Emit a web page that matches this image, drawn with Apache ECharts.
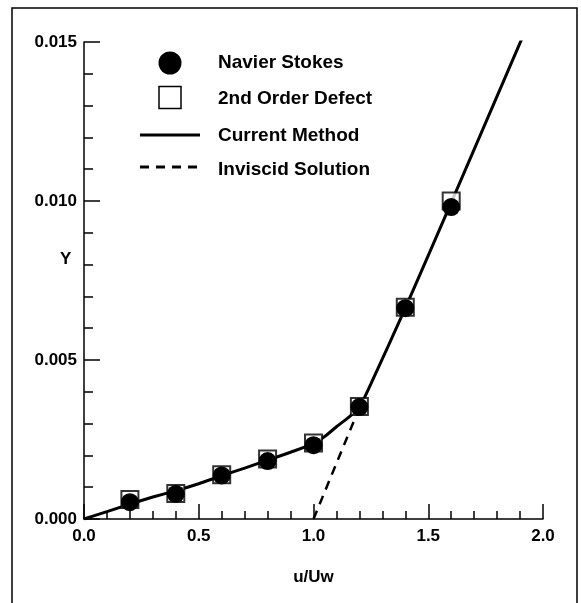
<!DOCTYPE html>
<html>
<head>
<meta charset="utf-8">
<script src="https://cdn.jsdelivr.net/npm/echarts@6/dist/echarts.min.js"></script>
<style>
html,body{margin:0;padding:0;background:#fff;}
#chart{width:581px;height:603px;}
</style>
</head>
<body>
<div id="chart"></div>
<script>
// ---- data ----
var pointX = [0.2, 0.4, 0.6, 0.8, 1.0, 1.2, 1.4, 1.6];
var navierStokesY = [0.00053, 0.00079, 0.00137, 0.00182, 0.00232, 0.00352, 0.00663, 0.00981];
var defectY = [0.00061, 0.00080, 0.00139, 0.00189, 0.00239, 0.00354, 0.00666, 0.01000];
var currentX = [0, 0.1, 0.2, 0.3, 0.4, 0.5, 0.6, 0.7, 0.8, 0.9, 1.0, 1.05, 1.1, 1.15, 1.2, 1.25, 1.4, 1.6, 1.8, 1.913];
var currentY = [0, 0.00023, 0.00047, 0.00069, 0.00089, 0.00111, 0.00136, 0.00160, 0.00185, 0.00210, 0.00237, 0.00260, 0.00290, 0.00318, 0.00352, 0.00425, 0.00663, 0.00995, 0.01330, 0.01519];
var inviscidX = [1.0, 1.2];
var inviscidY = [0, 0.0035];
var xTicks = ['0.0', '0.5', '1.0', '1.5', '2.0'];
var yTicks = ['0.000', '0.005', '0.010', '0.015'];
var legendNames = ['Navier Stokes', '2nd Order Defect', 'Current Method', 'Inviscid Solution'];

function zip(a, b) { return a.map(function (v, i) { return [v, b[i]]; }); }

var FONT = '"Liberation Sans", Arial, sans-serif';
var chart = echarts.init(document.getElementById('chart'), null, {renderer: 'canvas'});

var option = {
  backgroundColor: '#ffffff',
  animation: false,
  grid: {left: 84, right: 38, top: 42, bottom: 84, containLabel: false},
  xAxis: {
    type: 'value', min: 0, max: 2, interval: 0.5,
    name: 'u/Uw', nameLocation: 'middle', nameGap: 50,
    nameTextStyle: {fontFamily: FONT, fontWeight: 'bold', fontSize: 17, color: '#000'},
    axisLine: {show: true, lineStyle: {color: '#000', width: 1.5}},
    axisTick: {show: true, inside: true, length: 15, lineStyle: {color: '#000', width: 1.5}},
    minorTick: {show: true, splitNumber: 5, length: 8, lineStyle: {color: '#000', width: 1.5}},
    splitLine: {show: false},
    axisLabel: {
      margin: 9, fontFamily: FONT, fontWeight: 'bold', fontSize: 17, color: '#000',
      formatter: function (v) { return xTicks[Math.round(v / 0.5)]; }
    }
  },
  yAxis: {
    type: 'value', min: 0, max: 0.015, interval: 0.005,
    axisLine: {show: true, lineStyle: {color: '#000', width: 1.5}},
    axisTick: {show: true, inside: true, length: 16, lineStyle: {color: '#000', width: 1.5}},
    minorTick: {show: true, splitNumber: 5, length: 9, lineStyle: {color: '#000', width: 1.5}},
    splitLine: {show: false},
    axisLabel: {
      margin: 7, fontFamily: FONT, fontWeight: 'bold', fontSize: 17, color: '#000',
      formatter: function (v) { return yTicks[Math.round(v / 0.005)]; }
    }
  },
  series: [
    {
      name: legendNames[2], type: 'line', data: zip(currentX, currentY),
      showSymbol: false, symbol: 'none', smooth: 0.2,
      lineStyle: {color: '#000', width: 3}, z: 2
    },
    {
      name: legendNames[3], type: 'line', data: zip(inviscidX, inviscidY),
      showSymbol: false, symbol: 'none',
      lineStyle: {color: '#000', width: 2.5, type: [9, 7]}, z: 2
    },
    {
      name: legendNames[1], type: 'scatter', data: zip(pointX, defectY),
      symbol: 'rect', symbolSize: 17,
      itemStyle: {color: '#fff', borderColor: '#000', borderWidth: 2}, z: 3
    },
    {
      name: legendNames[0], type: 'scatter', data: zip(pointX, navierStokesY),
      symbol: 'circle', symbolSize: 18,
      itemStyle: {color: '#000', opacity: 1}, z: 4
    }
  ],
  graphic: [
    // outer frame
    {type: 'rect', shape: {x: 12, y: 8, width: 565, height: 610},
     style: {fill: null, stroke: '#000', lineWidth: 1.5}, silent: true},
    // Y axis title
    {type: 'text', left: 60, top: 251,
     style: {text: 'Y', fontFamily: FONT, fontWeight: 'bold', fontSize: 17, fill: '#000'}},
    // legend
    {type: 'circle', shape: {cx: 170, cy: 63, r: 11.5}, style: {fill: '#000'}},
    {type: 'rect', shape: {x: 159, y: 86.5, width: 22, height: 22}, style: {fill: '#fff', stroke: '#000', lineWidth: 1.5}},
    {type: 'line', shape: {x1: 140, y1: 135, x2: 200, y2: 135}, style: {stroke: '#000', lineWidth: 3}},
    {type: 'line', shape: {x1: 140, y1: 167, x2: 200, y2: 167}, style: {stroke: '#000', lineWidth: 3, lineDash: [9, 7]}},
    {type: 'text', x: 218, y: 63, style: {text: legendNames[0], fontFamily: FONT, fontWeight: 'bold', fontSize: 19, fill: '#000', verticalAlign: 'middle'}},
    {type: 'text', x: 218, y: 99, style: {text: legendNames[1], fontFamily: FONT, fontWeight: 'bold', fontSize: 19, fill: '#000', verticalAlign: 'middle'}},
    {type: 'text', x: 218, y: 136, style: {text: legendNames[2], fontFamily: FONT, fontWeight: 'bold', fontSize: 19, fill: '#000', verticalAlign: 'middle'}},
    {type: 'text', x: 218, y: 170, style: {text: legendNames[3], fontFamily: FONT, fontWeight: 'bold', fontSize: 19, fill: '#000', verticalAlign: 'middle'}}
  ]
};
chart.setOption(option);
</script>
</body>
</html>
